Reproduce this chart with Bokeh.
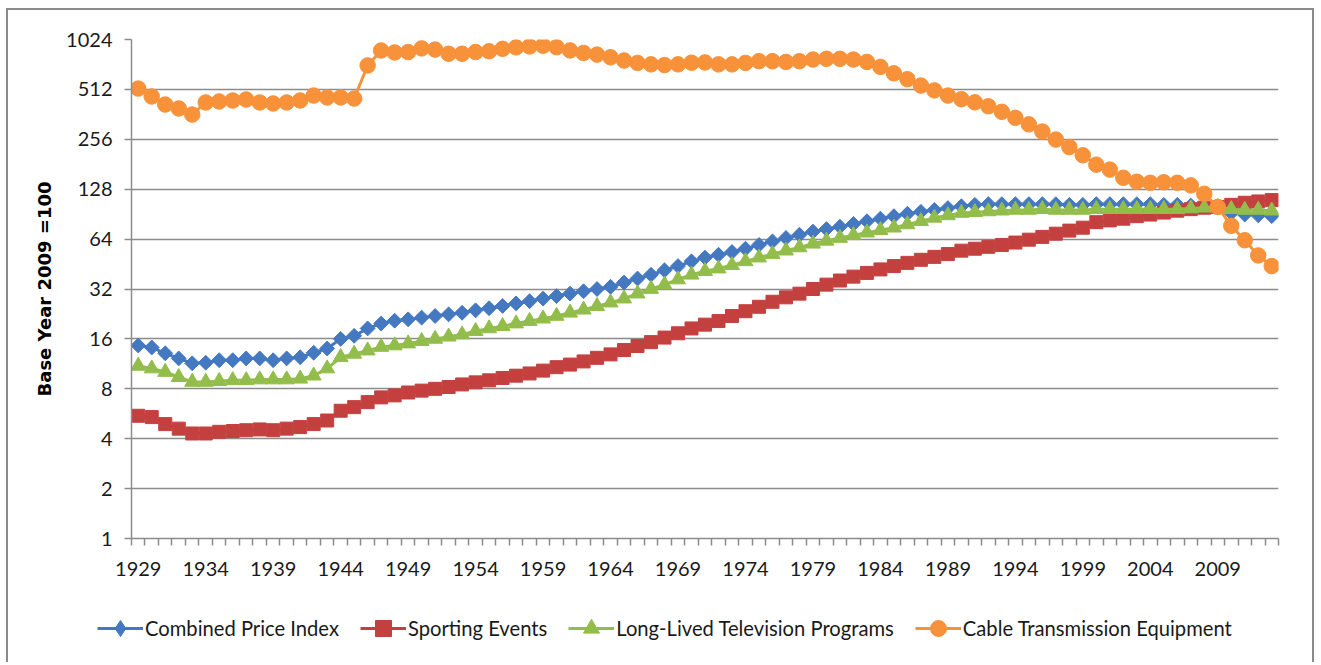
from bokeh.plotting import figure
from bokeh.models import Range1d, FixedTicker, Legend, LegendItem, ColumnDataSource, NumeralTickFormatter
from bokeh.embed import file_html
from bokeh.resources import INLINE
import math

years = list(range(1929, 2014))

combined = [14.6, 14.2, 13.1, 12.2, 11.4, 11.5, 11.9, 11.9, 12.2, 12.2,
            11.9, 12.2, 12.4, 13.2, 14.0, 16.0, 16.7, 18.5, 19.8, 20.6,
            21.0, 21.5, 22.0, 22.5, 23.0, 23.8, 24.5, 25.3, 26.2, 27.0,
            28.0, 29.0, 30.0, 31.0, 32.0, 33.0, 35.0, 37.0, 39.0, 41.5,
            44.0, 47.0, 49.5, 51.5, 53.5, 56.0, 59.0, 62.0, 65.0, 68.0,
            71.0, 73.5, 76.0, 79.0, 82.0, 85.0, 88.0, 91.0, 93.5, 96.0,
            98.5, 101, 103, 104, 104, 104, 104, 104, 104, 103,
            103, 104, 104, 104, 104, 104, 103, 103, 102, 101,
            100, 92, 90, 89, 88]

sporting = [5.5, 5.4, 4.9, 4.6, 4.3, 4.3, 4.4, 4.45, 4.5, 4.55,
            4.5, 4.6, 4.7, 4.9, 5.15, 5.9, 6.2, 6.65, 7.1, 7.3,
            7.6, 7.8, 8.0, 8.2, 8.5, 8.75, 9.0, 9.3, 9.6, 9.9,
            10.3, 10.8, 11.2, 11.7, 12.3, 12.9, 13.7, 14.5, 15.3, 16.3,
            17.3, 18.5, 19.5, 20.5, 22.0, 23.5, 25.0, 26.8, 28.5, 30.0,
            32.0, 34.0, 36.0, 38.0, 40.0, 42.0, 44.0, 46.0, 48.0, 50.0,
            52.0, 54.5, 56.0, 57.5, 59.0, 61.0, 63.5, 66.0, 69.0, 72.0,
            75.0, 81.0, 83.0, 85.0, 88.0, 90.0, 92.5, 95.0, 97.0, 99.0,
            100, 103, 106, 108, 110]

television = [11.0, 10.6, 10.1, 9.4, 8.8, 8.8, 8.9, 9.0, 9.0, 9.1,
              9.1, 9.1, 9.2, 9.6, 10.6, 12.4, 13.0, 13.6, 14.3, 14.6,
              15.0, 15.5, 16.0, 16.5, 17.0, 17.8, 18.5, 19.1, 19.8, 20.5,
              21.2, 22.0, 23.0, 24.0, 25.2, 26.5, 28.0, 30.0, 32.0, 34.0,
              36.5, 39.0, 41.0, 42.5, 44.5, 47.0, 49.5, 52.0, 54.5, 57.0,
              60.0, 62.5, 65.0, 67.5, 70.0, 72.5, 75.0, 78.5, 82.0, 86.0,
              89.0, 92.0, 93.0, 94.0, 95, 96, 96, 97, 96, 96,
              96, 97, 97, 97, 97, 97, 97, 97, 98, 99,
              100, 97, 96, 96, 95]

cable = [518, 464, 415, 393, 361, 427, 433, 439, 445, 427,
         421, 427, 439, 470, 458, 458, 451, 714, 879, 855,
         860, 905, 890, 840, 840, 860, 870, 900, 918, 930,
         940, 920, 880, 850, 830, 800, 765, 740, 725, 718,
         725, 742, 745, 725, 725, 740, 758, 758, 750, 758,
         775, 783, 783, 775, 750, 700, 640, 590, 540, 505,
         470, 447, 428, 405, 375, 345, 315, 285, 255, 230,
         205, 180, 168, 150, 142, 140, 141, 140, 135, 120,
         100, 77, 63, 51, 44]

series_names = ["Combined Price Index", "Sporting Events",
                "Long-Lived Television Programs", "Cable Transmission Equipment"]
y_ticks = [1, 2, 4, 8, 16, 32, 64, 128, 256, 512, 1024]
x_label_years = list(range(1929, 2014, 5))

colors = ["#4479C1", "#C4403F", "#92BD4B", "#F7923A"]
grid_color = "#8c8c8c"
border = "2px solid #8a8a8a"
FONT = "Lato"

p = figure(width=1308, height=600,
           x_range=Range1d(1928.5, 2013.5), y_range=Range1d(1, 1024),
           y_axis_type="log", output_backend="svg", toolbar_location=None,
           min_border_left=123, min_border_right=38, min_border_top=29,
           min_border_bottom=72)
p.styles = {"margin-left": "6px", "margin-top": "8px",
            "border-top": border, "border-left": border, "border-right": border}
p.outline_line_color = None
p.background_fill_color = "white"
p.border_fill_color = "white"

p.xgrid.grid_line_color = None
p.ygrid.ticker = FixedTicker(ticks=y_ticks)
p.ygrid.grid_line_color = grid_color
p.ygrid.grid_line_width = 1.5

# x axis
xa = p.xaxis[0]
xa.ticker = FixedTicker(ticks=x_label_years,
                        minor_ticks=[y - 0.5 for y in years] + [years[-1] + 0.5])
xa.major_tick_line_color = None
xa.major_tick_out = 0
xa.major_tick_in = 0
xa.minor_tick_out = 7
xa.minor_tick_in = 0
xa.minor_tick_line_color = grid_color
xa.minor_tick_line_width = 1.5
xa.axis_line_color = grid_color
xa.axis_line_width = 1.5
xa.major_label_standoff = 16
xa.major_label_text_font = FONT
xa.major_label_text_font_size = "20px"
xa.major_label_text_color = "#1a1a1a"

# y axis
ya = p.yaxis[0]
ya.ticker = FixedTicker(ticks=y_ticks)
ya.formatter = NumeralTickFormatter(format="0")
ya.minor_tick_line_color = None
ya.major_tick_out = 7
ya.major_tick_in = 0
ya.major_tick_line_color = grid_color
ya.major_tick_line_width = 1.5
ya.axis_line_color = grid_color
ya.axis_line_width = 1.5
ya.major_label_standoff = 12
ya.major_label_text_font = FONT
ya.major_label_text_font_size = "20px"
ya.major_label_text_color = "#1a1a1a"
ya.axis_label = "Base Year 2009 =100"
ya.axis_label_text_font = "DejaVu Sans"
ya.axis_label_text_font_style = "bold"
ya.axis_label_text_font_size = "18px"
ya.axis_label_text_color = "#000000"
ya.axis_label_standoff = 8

all_vals = [combined, sporting, television, cable]
markers = [("square", 10.5, math.pi / 4), ("square", 13, 0.0),
           ("triangle", 15, 0.0), ("circle", 15.5, 0.0)]
legend_markers = ["diamond", "square", "triangle", "circle"]

for vals, col, (mk, sz, ang) in zip(all_vals, colors, markers):
    src = ColumnDataSource(dict(x=years, y=vals))
    p.line("x", "y", source=src, line_color=col, line_width=3)
    p.scatter("x", "y", source=src, marker=mk, size=sz, angle=ang,
              fill_color=col, line_color=col)

# legend strip: a separate small figure (its own root) so the legend is not clipped
lg = figure(width=1308, height=54, output_backend="svg", toolbar_location=None,
            x_range=Range1d(0, 1), y_range=Range1d(0, 1),
            x_axis_location=None, y_axis_location=None,
            min_border_left=0, min_border_right=0, min_border_top=0, min_border_bottom=0)
lg.styles = {"margin-left": "6px", "border-left": border, "border-right": border}
lg.outline_line_color = None
lg.xgrid.grid_line_color = None
lg.ygrid.grid_line_color = None
lg.background_fill_color = "white"
lg.border_fill_color = "white"

items = []
for name, vals, col, lmk in zip(series_names, all_vals, colors, legend_markers):
    # one real point each, lying outside this strip's view: only the legend swatch shows
    src = ColumnDataSource(dict(x=[years[0]], y=[vals[0]]))
    ln = lg.line("x", "y", source=src, line_color=col, line_width=3)
    sc = lg.scatter("x", "y", source=src, marker=lmk, size=15,
                    fill_color=col, line_color=col)
    items.append(LegendItem(label=name, renderers=[ln, sc]))

legend = Legend(items=items, orientation="horizontal", location=(89, 14),
                glyph_width=46, glyph_height=40, label_standoff=2, spacing=21,
                padding=0, margin=0, border_line_color=None, background_fill_alpha=0,
                label_text_font=FONT, label_text_font_size="20.2px",
                label_text_color="#1a1a1a")
lg.add_layout(legend, "center")

open("out.html", "w").write(file_html([p, lg], INLINE))
